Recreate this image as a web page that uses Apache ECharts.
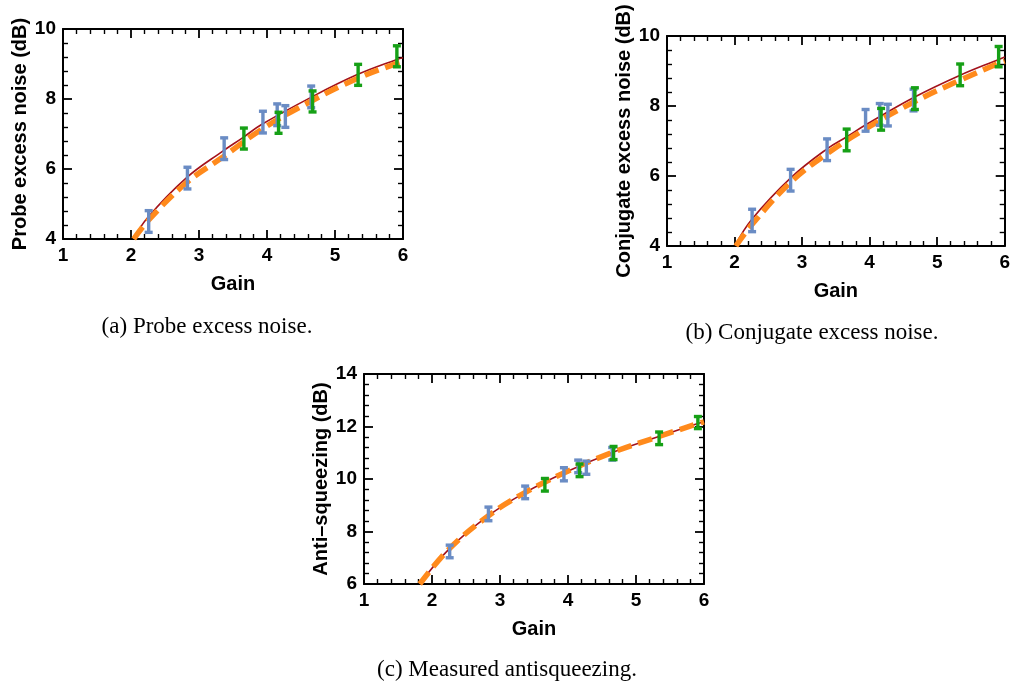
<!DOCTYPE html>
<html>
<head>
<meta charset="utf-8">
<title>Excess noise vs gain</title>
<script src="https://cdn.jsdelivr.net/npm/echarts@6/dist/echarts.min.js"></script>
<style>
  html, body { margin: 0; padding: 0; background: #fff; }
  #main { width: 1013px; height: 686px; }
</style>
</head>
<body>
<div id="main"></div>
<script>
// measured gains (blue = first run, green = second run)
var gainBlue  = [2.26, 2.83, 3.37, 3.94, 4.15, 4.27, 4.65];
var gainGreen = [3.66, 4.17, 4.67, 5.34, 5.91];

// (a) probe excess noise (dB)
var probeBlue     = [4.50, 5.74, 6.58, 7.34, 7.55, 7.50, 8.06];
var probeBlueErr  = [0.31, 0.31, 0.31, 0.31, 0.31, 0.31, 0.31];
var probeGreen    = [6.87, 7.32, 7.93, 8.69, 9.22];
var probeGreenErr = [0.30, 0.30, 0.30, 0.30, 0.30];
var probeModelRed    = [[2.04, 4.0], [2.24, 4.60], [2.81, 5.74], [3.35, 6.51], [3.64, 6.89], [3.92, 7.27], [4.64, 8.04], [5.32, 8.69], [5.91, 9.13], [6.0, 9.18]];
var probeModelOrange = [[2.04, 4.0], [2.24, 4.50], [2.81, 5.60], [3.35, 6.34], [3.92, 7.13], [4.64, 7.93], [5.32, 8.58], [5.91, 9.02], [6.0, 9.07]];

// (b) conjugate excess noise (dB)
var conjBlue     = [4.73, 5.88, 6.75, 7.59, 7.76, 7.74, 8.17];
var conjBlueErr  = [0.32, 0.31, 0.31, 0.31, 0.31, 0.31, 0.31];
var conjGreen    = [7.03, 7.62, 8.21, 8.89, 9.41];
var conjGreenErr = [0.31, 0.31, 0.31, 0.31, 0.29];
var conjModelRed    = [[2.01, 4.02], [2.26, 4.77], [2.84, 5.96], [3.38, 6.79], [3.67, 7.13], [3.95, 7.47], [4.66, 8.25], [5.34, 8.88], [5.91, 9.33], [6.0, 9.40]];
var conjModelOrange = [[2.02, 4.0], [2.26, 4.62], [2.84, 5.84], [3.38, 6.65], [3.95, 7.36], [4.66, 8.12], [5.34, 8.74], [5.91, 9.22], [6.0, 9.28]];

// (c) anti-squeezing (dB)
var antiBlue     = [7.24, 8.67, 9.49, 10.18, 10.48, 10.43, 10.96];
var antiBlueErr  = [0.24, 0.26, 0.24, 0.25, 0.24, 0.25, 0.24];
var antiGreen    = [9.78, 10.33, 10.99, 11.55, 12.15];
var antiGreenErr = [0.24, 0.24, 0.25, 0.24, 0.23];
var antiModelRed    = [[1.82, 6.0], [2.25, 7.33], [2.84, 8.62], [3.36, 9.47], [3.93, 10.22], [4.66, 11.02], [5.35, 11.63], [5.91, 12.11], [6.0, 12.18]];
var antiModelOrange = [[1.82, 6.0], [2.25, 7.33], [2.84, 8.62], [3.36, 9.47], [3.93, 10.22], [4.66, 11.02], [5.35, 11.63], [5.91, 12.11], [6.0, 12.18]];

var xTicks = { min: 1, max: 6, interval: 1 };
var yTicksAB = { min: 4, max: 10, interval: 2 };
var yTicksC = { min: 6, max: 14, interval: 2 };

var BLUE = '#6a8cc4', GREEN = '#16a016', RED = '#a3121b', ORANGE = '#ff8a1c';
var SANS = '"Liberation Sans", Arial, sans-serif';

function zip3(xs, ys, es) {
  return xs.map(function (x, i) { return [x, ys[i], es[i]]; });
}

function axis(range, pos, showLabel, name, nameGap) {
  return {
    type: 'value', position: pos,
    min: range.min, max: range.max, interval: range.interval,
    gridIndex: 0,
    axisLine: { show: true, onZero: false, lineStyle: { color: '#000', width: 2 } },
    axisTick: { show: true, inside: true, length: 9, lineStyle: { color: '#000', width: 1.8 } },
    minorTick: { show: true, splitNumber: 5, length: 5, lineStyle: { color: '#000', width: 1.4 } },
    splitLine: { show: false },
    axisLabel: { show: showLabel, color: '#000', fontFamily: SANS, fontWeight: 'bold', fontSize: 19, margin: 7 },
    name: name || '', nameLocation: 'middle', nameGap: nameGap || 0,
    nameTextStyle: { color: '#000', fontFamily: SANS, fontWeight: 'bold', fontSize: 20 }
  };
}

var grids = [
  { left: 63, top: 29, width: 340, height: 210 },
  { left: 667, top: 36, width: 339, height: 210 },
  { left: 364, top: 374, width: 340, height: 210 }
];
var yNames = ['Probe excess noise (dB)', 'Conjugate excess noise (dB)', 'Anti\u2013squeezing (dB)'];
var yRanges = [yTicksAB, yTicksAB, yTicksC];

var xAxes = [], yAxes = [];
grids.forEach(function (g, i) {
  var xb = axis(xTicks, 'bottom', true, 'Gain', 35); xb.gridIndex = i;
  var xt = axis(xTicks, 'top', false); xt.gridIndex = i;
  var yl = axis(yRanges[i], 'left', true, yNames[i], 33); yl.gridIndex = i;
  var yr = axis(yRanges[i], 'right', false); yr.gridIndex = i;
  xAxes.push(xb, xt);
  yAxes.push(yl, yr);
});

function curve(i, data, color, width, dash) {
  return {
    type: 'line', xAxisIndex: 2 * i, yAxisIndex: 2 * i,
    data: data, showSymbol: false, symbol: 'none', smooth: 0.4,
    clip: true, silent: true,
    lineStyle: { color: color, width: width, type: dash || 'solid', cap: 'butt' },
    z: dash ? 3 : 2
  };
}

function errorBars(i, data, color) {
  return {
    type: 'custom', xAxisIndex: 2 * i, yAxisIndex: 2 * i,
    data: data, z: 5, silent: true,
    encode: { x: 0, y: 1 },
    renderItem: function (params, api) {
      var x = api.value(0), y = api.value(1), e = api.value(2);
      var hi = api.coord([x, y + e]);
      var lo = api.coord([x, y - e]);
      var w = 4;
      var st = { stroke: color, lineWidth: 3.4 };
      return {
        type: 'group',
        children: [
          { type: 'line', shape: { x1: hi[0], y1: hi[1], x2: lo[0], y2: lo[1] }, style: st },
          { type: 'line', shape: { x1: hi[0] - w, y1: hi[1], x2: hi[0] + w, y2: hi[1] }, style: st },
          { type: 'line', shape: { x1: lo[0] - w, y1: lo[1], x2: lo[0] + w, y2: lo[1] }, style: st }
        ]
      };
    }
  };
}

var dash = [15, 7];
var series = [
  curve(0, probeModelRed, RED, 1.6),
  curve(0, probeModelOrange, ORANGE, 5.5, dash),
  errorBars(0, zip3(gainBlue, probeBlue, probeBlueErr), BLUE),
  errorBars(0, zip3(gainGreen, probeGreen, probeGreenErr), GREEN),

  curve(1, conjModelRed, RED, 1.6),
  curve(1, conjModelOrange, ORANGE, 5.5, dash),
  errorBars(1, zip3(gainBlue, conjBlue, conjBlueErr), BLUE),
  errorBars(1, zip3(gainGreen, conjGreen, conjGreenErr), GREEN),

  curve(2, antiModelRed, RED, 1.6),
  curve(2, antiModelOrange, ORANGE, 5.5, dash),
  errorBars(2, zip3(gainBlue, antiBlue, antiBlueErr), BLUE),
  errorBars(2, zip3(gainGreen, antiGreen, antiGreenErr), GREEN)
];

function caption(text, x, y) {
  return {
    type: 'text', x: x, y: y,
    style: {
      text: text, fill: '#000', align: 'center', verticalAlign: 'middle',
      font: '23px "Liberation Serif", "Times New Roman", serif'
    }
  };
}

var myChart = echarts.init(document.getElementById('main'), null, { renderer: 'canvas' });
myChart.setOption({
  animation: false,
  backgroundColor: '#fff',
  grid: grids,
  xAxis: xAxes,
  yAxis: yAxes,
  series: series,
  graphic: [
    caption('(a) Probe excess noise.', 207, 327),
    caption('(b) Conjugate excess noise.', 812, 333),
    caption('(c) Measured antisqueezing.', 507, 670)
  ]
});
</script>
</body>
</html>
